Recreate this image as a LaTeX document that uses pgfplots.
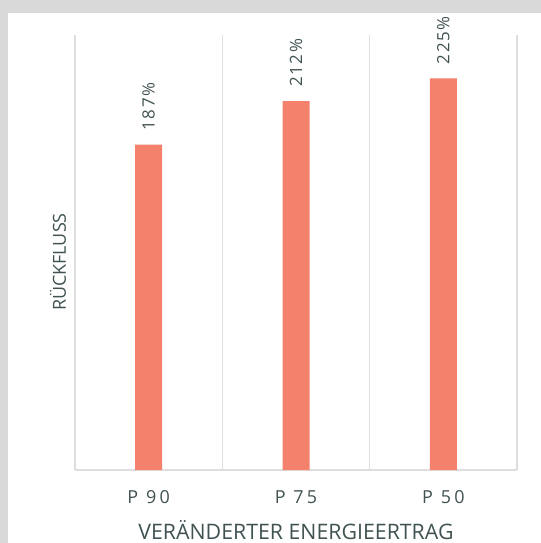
\documentclass[border=0pt]{standalone}
\usepackage{fontspec}
\setmainfont{Open Sans}
\newfontfamily\spaced[LetterSpace=18]{Open Sans}
\newfontfamily\lspaced[LetterSpace=10]{Open Sans}
\usepackage{pgfplots}
\pgfplotsset{compat=1.18}
\definecolor{bgframe}{RGB}{217,217,217}
\definecolor{gridc}{RGB}{222,222,222}
\definecolor{txt}{RGB}{64,82,82}
\definecolor{barc}{RGB}{244,129,108}
\begin{document}
\begin{tikzpicture}
\fill[bgframe] (0,0) rectangle (541bp,543bp);
\fill[white] (8bp,0) rectangle (541bp,530bp);
\useasboundingbox (0,0) rectangle (541bp,543bp);
\begin{axis}[
    at={(75bp,73bp)}, anchor=south west,
    scale only axis,
    width=442bp, height=435bp,
    ymin=0, ymax=250,
    xmin=-0.5, xmax=2.5,
    xtick={0,1,2},
    xticklabels={P 90, P 75, P 50},
    minor xtick={-0.5,0.5,1.5,2.5},
    xminorgrids=true,
    minor grid style={gridc, line width=1.5bp},
    major tick length=0pt, minor tick length=0pt,
    ytick=\empty,
    axis x line*=bottom,
    axis y line*=left,
    y axis line style={draw=none},
    x axis line style={gridc, line width=1.5bp, -},
    xticklabel style={font=\spaced\fontsize{18}{20}\selectfont, text=txt, anchor=center, yshift=-27bp},
    xlabel={VERÄNDERTER ENERGIEERTRAG},
    xlabel style={font=\fontsize{21.4}{24}\selectfont, text=txt, at={(axis description cs:0.5,0)}, anchor=center, yshift=-60bp},
    ylabel={RÜCKFLUSS},
    ylabel style={font=\fontsize{18}{22}\selectfont, text=txt, at={(axis description cs:-0.0385,0.478)}, anchor=center},
    ybar, bar width=27bp,
    point meta=explicit symbolic,
    nodes near coords={\pgfplotspointmeta\%},
    every node near coord/.append style={font=\lspaced\fontsize{17}{19}\selectfont, text=txt, rotate=90, anchor=west, inner xsep=14bp},
    clip=false,
]
\addplot[fill=barc, draw=none] coordinates {(0,187) [187] (1,212) [212] (2,225) [225]};
\end{axis}
\end{tikzpicture}
\end{document}
